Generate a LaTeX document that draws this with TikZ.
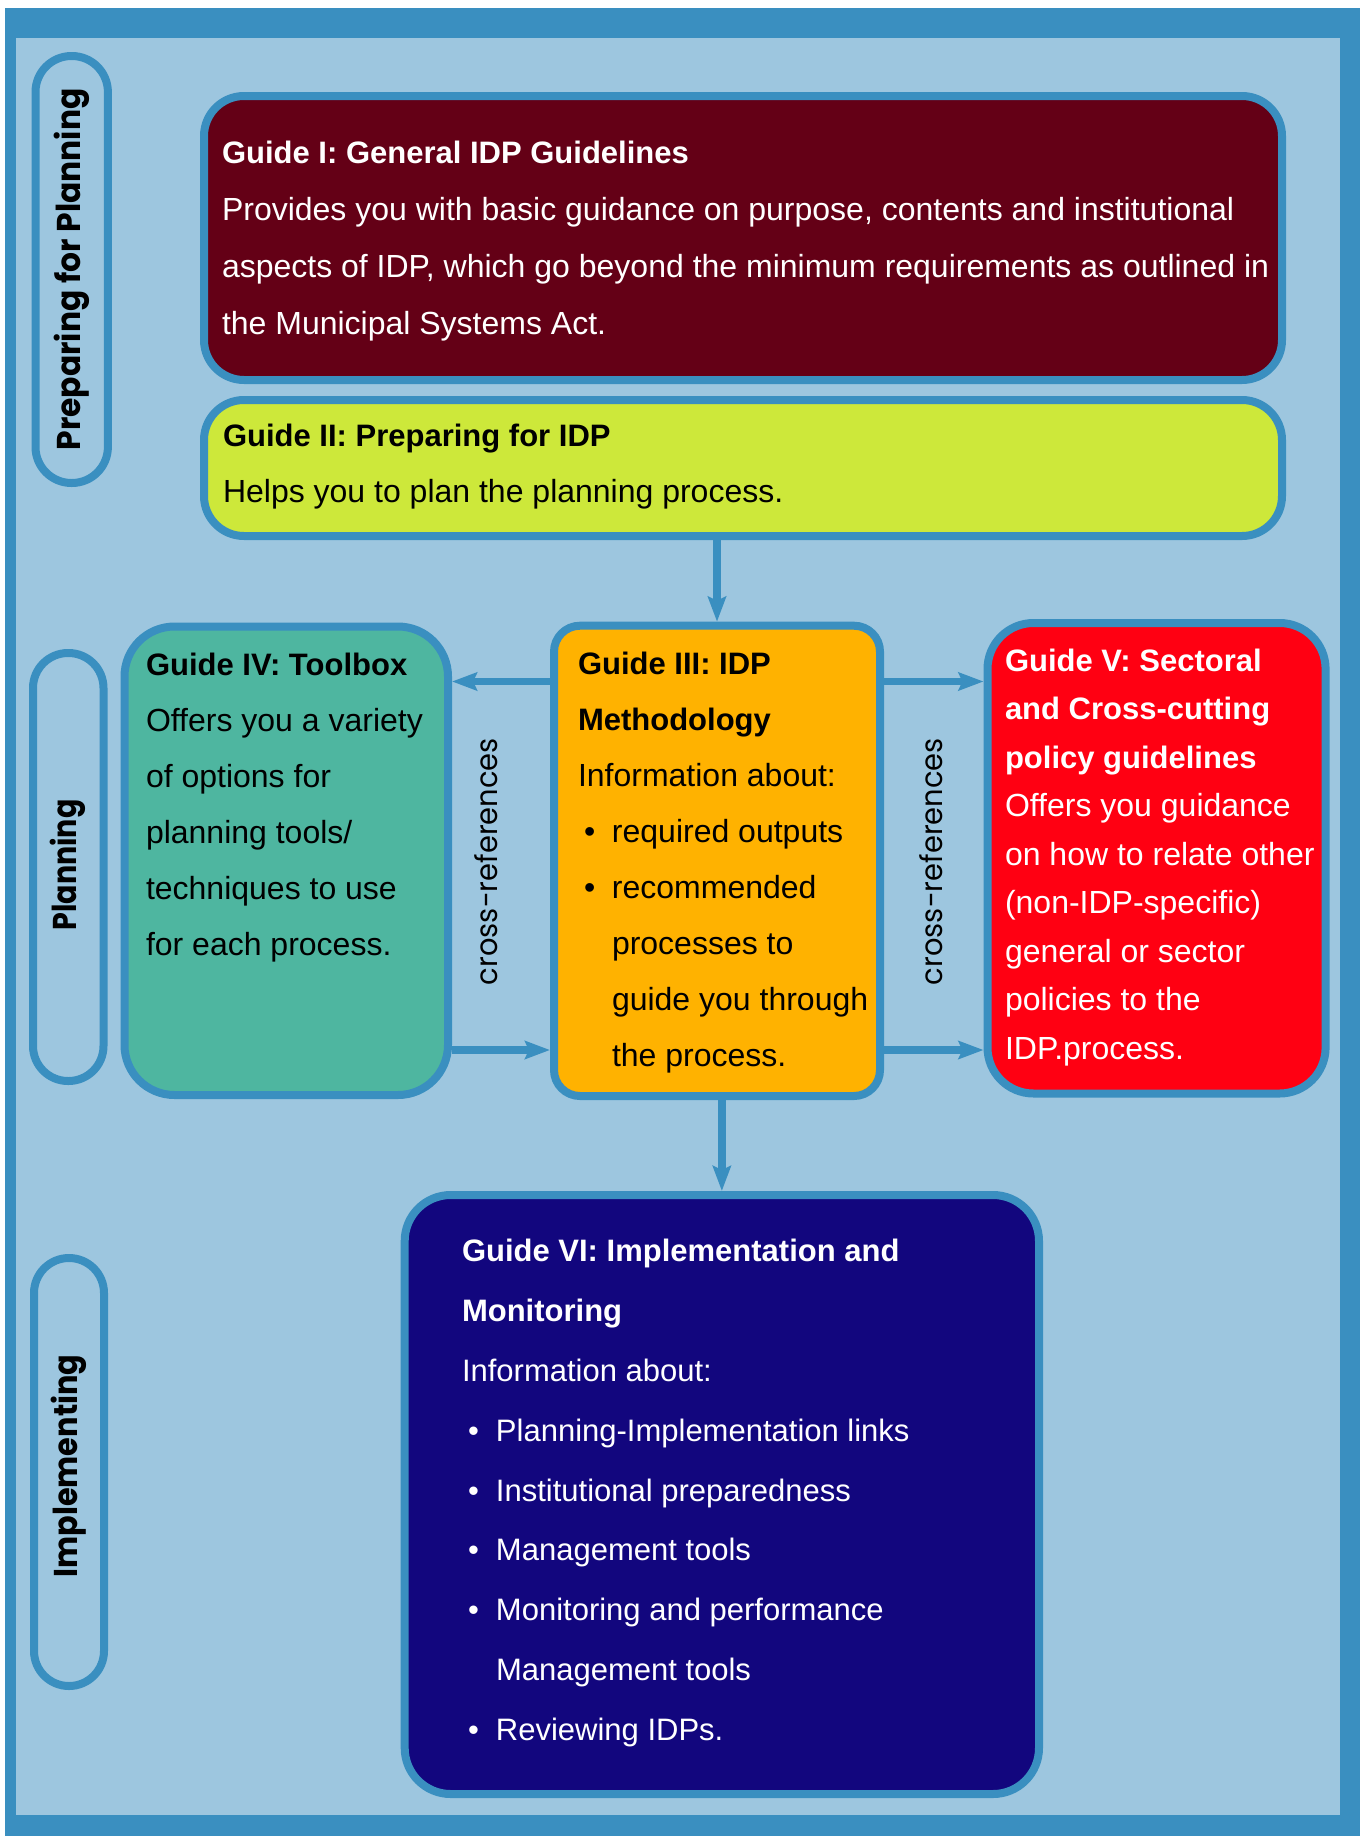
\documentclass[tikz,border=0pt]{standalone}
\usepackage{fontspec}
\setmainfont{Liberation Sans}
\newfontfamily\popfont{Poppins}
\usetikzlibrary{arrows.meta,calc}
\definecolor{frame}{RGB}{58,143,192}
\definecolor{bgblue}{RGB}{157,198,223}
\definecolor{gone}{RGB}{100,0,22}
\definecolor{gtwo}{RGB}{205,232,58}
\definecolor{gthree}{RGB}{255,178,0}
\definecolor{gfour}{RGB}{78,182,160}
\definecolor{gfive}{RGB}{255,0,18}
\definecolor{gsix}{RGB}{18,6,126}
\newcommand{\bitem}{\hspace*{3pt}\makebox[14pt][l]{•}}
\newcommand{\bindent}{\hspace*{17pt}}
\newcommand{\ttl}[1]{{\fontsize{15.5}{18}\selectfont\bfseries #1}}
\begin{document}
\begin{tikzpicture}[x=0.5pt,y=-0.5pt,
  box/.style={draw=frame, line width=4pt, inner sep=0pt},
  pill/.style={draw=frame, line width=4pt, inner sep=0pt},
  txt/.style={anchor=base west, align=left, inner sep=0pt, outer sep=0pt},
  sidelabel/.style={rotate=90, inner sep=0pt, text=black, font={\popfont\bfseries\fontsize{16.5}{18}\selectfont}},
  xref/.style={rotate=90, anchor=base, inner sep=0pt, text=black, font={\popfont\fontsize{15}{17}\selectfont}},
  arr/.style={draw=frame, line width=3.75pt, -{Stealth[length=12.5pt,width=9pt,inset=2pt]}}
]
\useasboundingbox (0,0) rectangle (1360,1836);
\fill[frame] (5.4,7.5) rectangle (1360,1836);
\fill[bgblue] (15.6,37.5) rectangle (1340,1815);

% side pills
\node[pill, rounded corners=18pt, minimum width=36.2pt, minimum height=213.5pt] (p1) at (71.7,269.5) {};
\node[pill, rounded corners=17.5pt, minimum width=35.25pt, minimum height=214pt] (p2) at (68.25,867) {};
\node[pill, rounded corners=17.5pt, minimum width=35pt, minimum height=214pt] (p3) at (69,1472) {};
\node[sidelabel] (l1) at (p1.center) {\resizebox{181pt}{\height}{Preparing for Planning}};
\node[sidelabel] (l2) at (68.25,865) {\resizebox{65.5pt}{\height}{Planning}};
\node[sidelabel] (l3) at (69,1466) {\resizebox{111.5pt}{\height}{Implementing}};

% guide boxes
\node[box, fill=gone, rounded corners=20pt, minimum width=539pt, minimum height=142pt] (g1) at (743,238) {};
\node[box, fill=gtwo, rounded corners=20pt, minimum width=539pt, minimum height=68pt] (g2) at (743,468) {};
\node[box, fill=gfour, rounded corners=25pt, minimum width=161.75pt, minimum height=234.25pt] (g4) at (286.25,860.75) {};
\node[box, fill=gthree, rounded corners=13pt, minimum width=163pt, minimum height=235.15pt] (g3) at (717,860.85) {};
\node[box, fill=gfive, rounded corners=23pt, minimum width=169.05pt, minimum height=235.25pt] (g5) at (1156.55,858.25) {};
\node[box, fill=gsix, rounded corners=23pt, minimum width=317.15pt, minimum height=299.5pt] (g6) at (721.85,1494.5) {};

% texts (anchored at the baseline of their last line)
\node[txt, text=white, font={\fontsize{16}{28.5}\selectfont}] (t1) at (222,334)
 {\ttl{Guide I: General IDP Guidelines}\\
  Provides you with basic guidance on purpose, contents and institutional\\
  aspects of IDP, which go beyond the minimum requirements as outlined in\\
  the Municipal Systems Act.};
\node[txt, text=black, font={\fontsize{16}{28}\selectfont}] (t2) at (223,502)
 {\ttl{Guide II: Preparing for IDP}\\
  Helps you to plan the planning process.};
\node[txt, text=black, font={\fontsize{16}{28}\selectfont}] (t4) at (146,955)
 {\ttl{Guide IV: Toolbox}\\
  Offers you a variety\\
  of options for\\
  planning tools/\\
  techniques to use\\
  for each process.};
\node[txt, text=black, font={\fontsize{16}{28}\selectfont}] (t3) at (578,1066)
 {\ttl{Guide III: IDP}\\
  \ttl{Methodology}\\
  Information about:\\
  \bitem required outputs\\
  \bitem recommended\\
  \bindent processes to\\
  \bindent guide you through\\
  \bindent the process.};
\node[txt, text=white, font={\fontsize{16}{24.25}\selectfont}] (t5) at (1005,1059)
 {\ttl{Guide V: Sectoral}\\
  \ttl{and Cross-cutting}\\
  \ttl{policy guidelines}\\
  Offers you guidance\\
  on how to relate other\\
  (non-IDP-specific)\\
  general or sector\\
  policies to the\\
  IDP.process.};
\node[txt, text=white, font={\fontsize{15.5}{29.94}\selectfont}] (t6) at (462,1740.6)
 {\ttl{Guide VI: Implementation and}\\
  \ttl{Monitoring}\\
  Information about:\\
  \bitem Planning-Implementation links\\
  \bitem Institutional preparedness\\
  \bitem Management tools\\
  \bitem Monitoring and performance\\
  \bindent Management tools\\
  \bitem Reviewing IDPs.};

% cross-reference labels
\node[xref] (x1) at (497,861.5) {\resizebox{123.5pt}{\height}{cross-references}};
\node[xref] (x2) at (942,861.5) {\resizebox{123.5pt}{\height}{cross-references}};

% connectors
\coordinate (ytop) at (0,681.5);
\coordinate (ybot) at (0,1050);
\draw[arr] (g2.south -| g3.north) -- (g3.north);
\draw[arr] (g3.west |- ytop) -- (g4.east |- ytop);
\draw[arr] (g4.east |- ybot) -- (g3.west |- ybot);
\draw[arr] (g3.east |- ytop) -- (g5.west |- ytop);
\draw[arr] (g3.east |- ybot) -- (g5.west |- ybot);
\draw[arr] (g3.south -| g6.north) -- (g6.north);
\end{tikzpicture}
\end{document}
